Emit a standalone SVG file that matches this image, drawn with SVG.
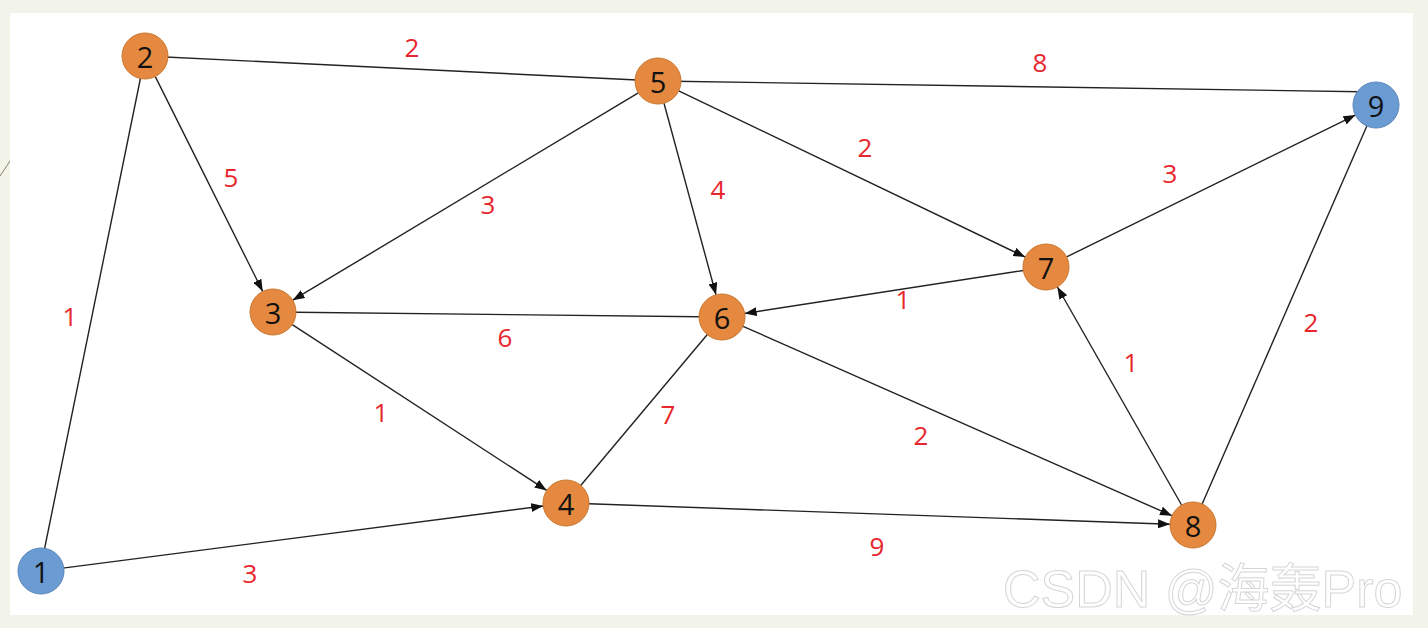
<svg xmlns="http://www.w3.org/2000/svg" width="1428" height="628" viewBox="0 0 1428 628">
<style>
.node-o{fill:#e4893f;stroke:#c9762f;stroke-width:1}
.node-b{fill:#6b9bd3;stroke:#5a86bb;stroke-width:1}
.nt{font-family:"Open Sans","Noto Sans",sans-serif;font-size:29px;fill:#111;text-anchor:middle;dominant-baseline:central}
.edge{stroke:#222;stroke-width:1.4;fill:none}
.arr{marker-end:url(#ah)}
.lbl{font-family:"Open Sans","Noto Sans",sans-serif;font-size:26px;fill:#e8262d;text-anchor:middle;dominant-baseline:central}
.wm{font-family:"Liberation Sans","Noto Sans CJK SC",sans-serif;font-size:52px;fill:#ffffff;fill-opacity:0.85;stroke:#d6d6d6;stroke-width:1}
</style>
<defs>
<marker id="ah" markerUnits="userSpaceOnUse" markerWidth="12" markerHeight="9" refX="12" refY="4.5" orient="auto">
<path d="M0,0 L12,4.5 L0,9 z" fill="#111"/>
</marker>
</defs>
<rect x="0" y="0" width="1428" height="628" fill="#f2f3e9"/>
<line x1="0" y1="176" x2="14" y2="155" stroke="#8a8070" stroke-width="1"/>
<rect x="10" y="13" width="1403" height="602" fill="#ffffff"/>
<g id="connectors">
<line class="edge" x1="40" y1="571" x2="145" y2="56"/>
<line class="edge" x1="145" y1="56" x2="658" y2="81"/>
<line class="edge" x1="658" y1="81" x2="1376" y2="92"/>
<line class="edge" x1="273" y1="312" x2="722" y2="317"/>
<line class="edge" x1="722" y1="317" x2="566" y2="503"/>
<line class="edge" x1="1193" y1="525" x2="1376" y2="105"/>
<line class="edge arr" x1="62.8" y1="568.1" x2="543.2" y2="506.0"/>
<line class="edge arr" x1="155.3" y1="76.6" x2="262.7" y2="291.4"/>
<line class="edge arr" x1="638.3" y1="92.8" x2="292.7" y2="300.2"/>
<line class="edge arr" x1="664.0" y1="103.2" x2="716.0" y2="294.8"/>
<line class="edge arr" x1="678.7" y1="90.9" x2="1025.3" y2="257.1"/>
<line class="edge arr" x1="292.3" y1="324.6" x2="546.7" y2="490.4"/>
<line class="edge arr" x1="1023.3" y1="270.5" x2="744.7" y2="313.5"/>
<line class="edge arr" x1="1066.6" y1="256.9" x2="1355.4" y2="115.1"/>
<line class="edge arr" x1="743.0" y1="326.3" x2="1172.0" y2="515.7"/>
<line class="edge arr" x1="589.0" y1="503.8" x2="1170.0" y2="524.2"/>
<line class="edge arr" x1="1181.6" y1="505.0" x2="1057.4" y2="287.0"/>
</g>
<g id="labels">
<text class="lbl" x="412" y="47">2</text>
<text class="lbl" x="1040" y="62">8</text>
<text class="lbl" x="231" y="177">5</text>
<text class="lbl" x="488" y="204">3</text>
<text class="lbl" x="718" y="189">4</text>
<text class="lbl" x="865" y="147">2</text>
<text class="lbl" x="1170" y="173">3</text>
<text class="lbl" x="70" y="316">1</text>
<text class="lbl" x="505" y="337">6</text>
<text class="lbl" x="903" y="299">1</text>
<text class="lbl" x="1311" y="322">2</text>
<text class="lbl" x="381" y="412">1</text>
<text class="lbl" x="668" y="414">7</text>
<text class="lbl" x="1131" y="362">1</text>
<text class="lbl" x="921" y="435">2</text>
<text class="lbl" x="877" y="546">9</text>
<text class="lbl" x="250" y="573">3</text>
</g>
<g id="node-1"><circle class="node-b" cx="41" cy="571" r="23"/><text class="nt" x="41" y="571">1</text></g>
<g id="node-2"><circle class="node-o" cx="145" cy="56" r="23"/><text class="nt" x="145" y="56">2</text></g>
<g id="node-3"><circle class="node-o" cx="273" cy="312" r="23"/><text class="nt" x="273" y="312">3</text></g>
<g id="node-4"><circle class="node-o" cx="566" cy="503" r="23"/><text class="nt" x="566" y="503">4</text></g>
<g id="node-5"><circle class="node-o" cx="658" cy="81" r="23"/><text class="nt" x="658" y="81">5</text></g>
<g id="node-6"><circle class="node-o" cx="722" cy="317" r="23"/><text class="nt" x="722" y="317">6</text></g>
<g id="node-7"><circle class="node-o" cx="1046" cy="267" r="23"/><text class="nt" x="1046" y="267">7</text></g>
<g id="node-8"><circle class="node-o" cx="1193" cy="525" r="23"/><text class="nt" x="1193" y="525">8</text></g>
<g id="node-9"><circle class="node-b" cx="1376" cy="105" r="23"/><text class="nt" x="1376" y="105">9</text></g>
<text class="wm" x="1003" y="607">CSDN @海轰Pro</text>
</svg>
